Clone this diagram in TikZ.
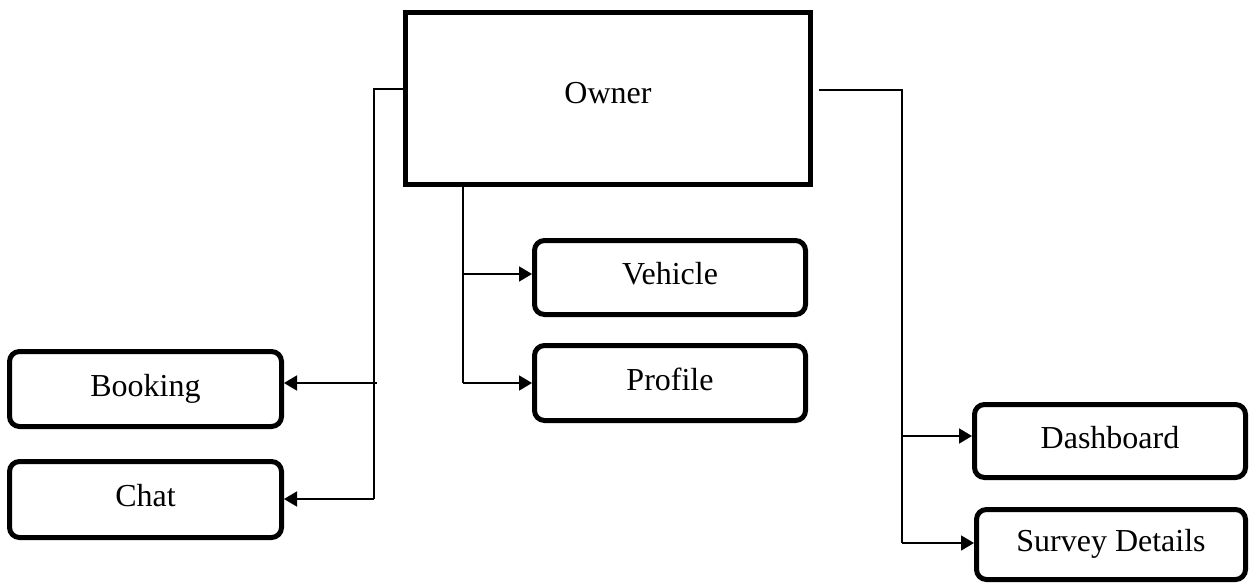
\documentclass[tikz,border=0pt]{standalone}
\usepackage{fontspec}
\setmainfont{Liberation Serif}
\usetikzlibrary{arrows.meta}
\begin{document}
\begin{tikzpicture}[x=1pt,y=-1pt,
  mainbox/.style={draw=black,line width=5pt,fill=white,inner sep=0pt,
    font=\fontsize{32}{37}\selectfont,text height=22pt,text depth=12pt},
  subbox/.style={draw=black,line width=5pt,rounded corners=10pt,fill=white,inner sep=0pt,
    font=\fontsize{32}{37}\selectfont,text height=22pt,text depth=8pt},
  conn/.style={draw=black,line width=1.8pt},
  arr/.style={conn,-{Triangle[length=13pt,width=15pt]}}]
\useasboundingbox (0,0) rectangle (1252,588);
\node[mainbox,minimum width=405pt,minimum height=172pt] (owner) at (608,98.5) {Owner};
\node[subbox,minimum width=272pt,minimum height=75pt] (booking) at (145.5,389) {Booking};
\node[subbox,minimum width=272pt,minimum height=76pt] (chat) at (145.5,499.5) {Chat};
\node[subbox,minimum width=271pt,minimum height=74pt] (vehicle) at (670,277.5) {Vehicle};
\node[subbox,minimum width=271pt,minimum height=75pt] (profile) at (670,383) {Profile};
\node[subbox,minimum width=271pt,minimum height=73pt] (dashboard) at (1110,441) {Dashboard};
\node[subbox,minimum width=269pt,minimum height=70pt] (survey) at (1111,544.5) {Survey Details};
% left branch
\coordinate (lt) at (374,89);
\coordinate (lb) at (374,499);
\coordinate (lbk) at (377,383);
\draw[conn] (owner.west |- lt) -- (lt) -- (lb);
\draw[arr] (lb) -- (chat.east |- lb);
\draw[arr] (lbk) -- (booking.east |- lbk);
% middle branch
\coordinate (mv) at (463,274);
\coordinate (mp) at (463,383);
\draw[conn] (owner.south -| mp) -- (mp);
\draw[arr] (mp) -- (profile.west |- mp);
\draw[arr] (mv) -- (vehicle.west |- mv);
% right branch
\coordinate (rs) at (819,90);
\coordinate (rt) at (902,90);
\coordinate (rd) at (902,436);
\coordinate (rb) at (902,543);
\draw[conn] (rs) -- (rt) -- (rb);
\draw[arr] (rb) -- (survey.west |- rb);
\draw[arr] (rd) -- (dashboard.west |- rd);
\end{tikzpicture}
\end{document}
